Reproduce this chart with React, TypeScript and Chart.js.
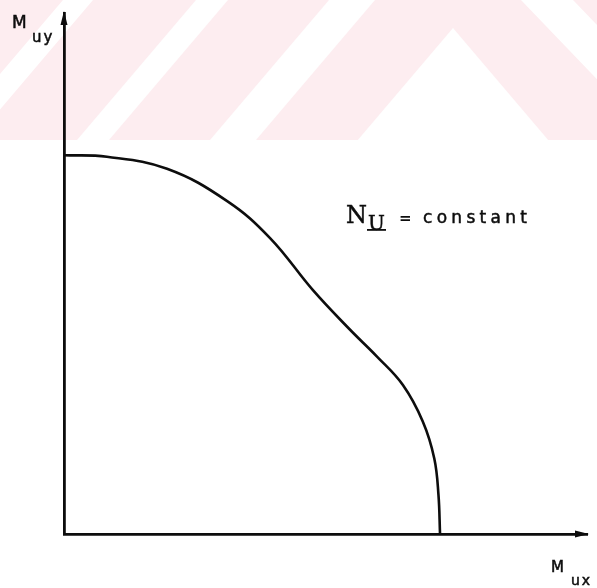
import React, { useEffect, useRef } from "react";
import { Chart, registerables } from "chart.js";

Chart.register(...registerables);

// Interaction diagram for biaxial bending at constant axial load (Nu = constant)
const muxValues = [0, 8.2, 19.7, 31.2, 39.4, 47.6, 54.7, 59.8, 64.8, 68.6, 70.8, 71.6, 71.9];
const muyValues = [72.7, 72.4, 70.1, 63.9, 56.8, 46.8, 39.2, 34.1, 28.6, 21.6, 14.5, 7.5, 0];

const axisMax = 100;
const yAxisLabel = ["M", "uy"];
const xAxisLabel = ["M", "ux"];
const curveLabel = { main: "N", sub: "U", rest: "constant" };

const INK = "#0d0d0d";

// faint page watermark band behind the figure
const watermarkPlugin = {
  id: "watermark",
  beforeDraw(chart: Chart) {
    const { ctx, width } = chart;
    const band = 140;
    ctx.save();
    ctx.fillStyle = "#ffffff";
    ctx.fillRect(0, 0, width, chart.height);
    ctx.beginPath();
    ctx.rect(0, 0, width, band);
    ctx.clip();
    ctx.fillStyle = "#fdedf0";
    ctx.fillRect(0, 0, width, band);
    ctx.fillStyle = "#ffffff";
    const s = 0.85;
    const slash = (a: number, b: number) => {
      ctx.beginPath();
      ctx.moveTo(a, 0);
      ctx.lineTo(b, 0);
      ctx.lineTo(b - s * band, band);
      ctx.lineTo(a - s * band, band);
      ctx.closePath();
      ctx.fill();
    };
    slash(63, 93);
    slash(196, 228);
    slash(329, 375);
    // chevron
    ctx.beginPath();
    ctx.moveTo(453, 28);
    ctx.lineTo(453 + s * (band - 28), band);
    ctx.lineTo(453 - s * (band - 28), band);
    ctx.closePath();
    ctx.fill();
    // back-slash stripe at the right
    const bs = 0.96;
    ctx.beginPath();
    ctx.moveTo(521, 0);
    ctx.lineTo(573, 0);
    ctx.lineTo(573 + bs * band, band);
    ctx.lineTo(521 + bs * band, band);
    ctx.closePath();
    ctx.fill();
    ctx.restore();
  },
};

// arrowheads on the axes and the hand-lettered labels
const annotationPlugin = {
  id: "annotations",
  afterDraw(chart: Chart) {
    const { ctx, chartArea } = chart;
    const { left, top, right, bottom } = chartArea;
    ctx.save();
    ctx.fillStyle = INK;
    ctx.strokeStyle = INK;

    // y-axis arrow
    ctx.beginPath();
    ctx.moveTo(left, top - 2);
    ctx.lineTo(left - 3.5, top + 12);
    ctx.lineTo(left + 3.5, top + 12);
    ctx.closePath();
    ctx.fill();

    // x-axis arrow
    ctx.beginPath();
    ctx.moveTo(right + 2, bottom);
    ctx.lineTo(right - 12, bottom - 3.5);
    ctx.lineTo(right - 12, bottom + 3.5);
    ctx.closePath();
    ctx.fill();

    ctx.textBaseline = "alphabetic";
    ctx.textAlign = "left";
    ctx.lineWidth = 0.5;

    const ink = (text: string, x: number, y: number) => {
      ctx.fillText(text, x, y);
      ctx.strokeText(text, x, y);
    };

    // Muy
    ctx.font = "17px 'DejaVu Sans'";
    ink(yAxisLabel[0], 12, 28);
    (ctx as any).letterSpacing = "2px";
    ctx.font = "15px 'DejaVu Sans'";
    ink(yAxisLabel[1], 32, 42);
    (ctx as any).letterSpacing = "0px";

    // Mux
    ctx.font = "15px 'DejaVu Sans'";
    ink(xAxisLabel[0], 551, 572);
    (ctx as any).letterSpacing = "2px";
    ctx.font = "14px 'DejaVu Sans'";
    ink(xAxisLabel[1], 571, 585);
    (ctx as any).letterSpacing = "0px";

    // Nu = constant
    ctx.font = "24px 'DejaVu Serif'";
    ink(curveLabel.main, 346, 223);
    ctx.font = "20px 'DejaVu Serif'";
    ink(curveLabel.sub, 368, 230);
    ctx.fillRect(367, 229, 19, 1.8);
    ctx.font = "bold 15px 'DejaVu Sans'";
    ctx.fillText("=", 399, 223);
    (ctx as any).letterSpacing = "4.3px";
    ctx.font = "17px 'DejaVu Sans'";
    ink(curveLabel.rest, 423, 223);
    (ctx as any).letterSpacing = "0px";

    ctx.restore();
  },
};

export default function App() {
  const canvasRef = useRef<HTMLCanvasElement | null>(null);

  useEffect(() => {
    const canvas = canvasRef.current;
    if (!canvas) return;
    const chart = new Chart(canvas, {
      type: "line",
      data: {
        datasets: [
          {
            data: muxValues.map((x, i) => ({ x, y: muyValues[i] })),
            borderColor: INK,
            borderWidth: 2.6,
            pointRadius: 0,
            tension: 0.4,
            fill: false,
            clip: false as any,
          },
        ],
      },
      options: {
        animation: false,
        responsive: false,
        maintainAspectRatio: false,
        devicePixelRatio: 1,
        layout: { padding: { left: 56, top: 13, right: 10, bottom: 46 } },
        plugins: {
          legend: { display: false },
          tooltip: { enabled: false },
        },
        scales: {
          x: {
            type: "linear",
            min: 0,
            max: axisMax,
            ticks: { display: false },
            grid: { display: false },
            border: { display: true, color: INK, width: 2.8 },
          },
          y: {
            type: "linear",
            min: 0,
            max: axisMax,
            ticks: { display: false },
            grid: { display: false },
            border: { display: true, color: INK, width: 2.8 },
          },
        },
      },
      plugins: [watermarkPlugin, annotationPlugin],
    });
    return () => chart.destroy();
  }, []);

  return (
    <div style={{ position: "fixed", left: 0, top: 0, width: 597, height: 588, background: "#fff" }}>
      <canvas ref={canvasRef} width={597} height={588} style={{ display: "block" }} />
    </div>
  );
}
